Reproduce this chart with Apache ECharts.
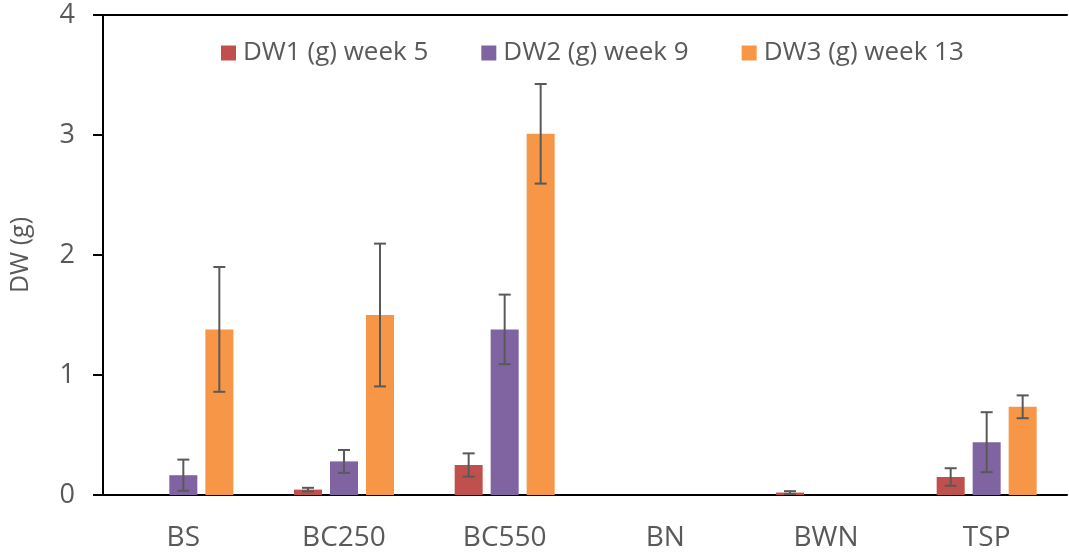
<!DOCTYPE html>
<html>
<head>
<meta charset="utf-8">
<script src="https://cdn.jsdelivr.net/npm/echarts@6/dist/echarts.min.js"></script>
<style>
  html, body { margin: 0; padding: 0; background: #fff; }
  #chart { width: 1069px; height: 555px; }
</style>
</head>
<body>
<div id="chart"></div>
<script>
// Dry weight per treatment at three sampling weeks (mean and error)
const categories = ['BS', 'BC250', 'BC550', 'BN', 'BWN', 'TSP'];
const seriesNames = ['DW1 (g) week 5', 'DW2 (g) week 9', 'DW3 (g) week 13'];
const dw1 = [0, 0.045, 0.25, 0, 0.02, 0.15];
const dw1Err = [0, 0.015, 0.097, 0, 0.012, 0.073];
const dw2 = [0.165, 0.28, 1.38, 0, 0, 0.44];
const dw2Err = [0.13, 0.095, 0.29, 0, 0, 0.25];
const dw3 = [1.38, 1.5, 3.01, 0, 0, 0.735];
const dw3Err = [0.52, 0.595, 0.415, 0, 0, 0.095];
const yTicks = [0, 1, 2, 3, 4];

const colors = ['#C0504D', '#8064A2', '#F79646'];
const font = '"Open Sans", sans-serif';
const textColor = '#595959';
const BAR_W = 28;
const BAR_GAP = 8;

const values = [dw1, dw2, dw3];
const errors = [dw1Err, dw2Err, dw3Err];

function errorSeries(idx) {
  const data = categories.map((c, i) => [i, values[idx][i], errors[idx][i]]);
  return {
    type: 'custom',
    name: seriesNames[idx] + ' error',
    silent: true,
    z: 10,
    data: data,
    renderItem: function (params, api) {
      const err = api.value(2);
      if (!err) return null;
      const x = api.value(0);
      const v = api.value(1);
      const shift = (idx - 1) * (BAR_W + BAR_GAP);
      const hi = api.coord([x, v + err]);
      const lo = api.coord([x, v - err]);
      const cx = hi[0] + shift;
      const cap = 6;
      const style = { stroke: '#595959', lineWidth: 2 };
      return {
        type: 'group',
        children: [
          { type: 'line', shape: { x1: cx, y1: hi[1], x2: cx, y2: lo[1] }, style: style },
          { type: 'line', shape: { x1: cx - cap, y1: hi[1], x2: cx + cap, y2: hi[1] }, style: style },
          { type: 'line', shape: { x1: cx - cap, y1: lo[1], x2: cx + cap, y2: lo[1] }, style: style }
        ]
      };
    }
  };
}

const barSeries = seriesNames.map((name, idx) => ({
  type: 'bar',
  name: name,
  data: values[idx],
  barWidth: BAR_W,
  barGap: (BAR_GAP / BAR_W * 100) + '%',
  itemStyle: { color: colors[idx] },
  xAxisIndex: 0
}));

const chart = echarts.init(document.getElementById('chart'), null, { renderer: 'canvas' });
chart.setOption({
  animation: false,
  color: colors,
  textStyle: { fontFamily: font },
  legend: {
    data: seriesNames,
    top: 35,
    left: 216,
    itemWidth: 15,
    itemHeight: 15,
    itemGap: 53,
    icon: 'rect',
    textStyle: { fontFamily: font, fontSize: 26, color: textColor, padding: [0, 0, 0, 2] }
  },
  grid: { left: 98, right: 2, top: 15, bottom: 60 },
  xAxis: [{
    type: 'category',
    data: categories,
    axisLine: { lineStyle: { color: '#000', width: 2 } },
    axisTick: { show: false },
    axisLabel: { fontFamily: font, fontSize: 28, color: textColor, margin: 29 }
  }, {
    type: 'category',
    data: categories,
    position: 'top',
    axisLine: { lineStyle: { color: '#000', width: 2 } },
    axisTick: { show: false },
    axisLabel: { show: false }
  }],
  yAxis: {
    type: 'value',
    min: yTicks[0],
    max: yTicks[yTicks.length - 1],
    interval: 1,
    name: 'DW (g)',
    nameLocation: 'middle',
    nameGap: 70,
    nameTextStyle: { fontFamily: font, fontSize: 25, color: textColor },
    axisLine: { show: true, lineStyle: { color: '#000', width: 2 } },
    axisTick: { show: true, length: 10, lineStyle: { color: '#000', width: 2 } },
    axisLabel: { fontFamily: font, fontSize: 27, color: textColor, margin: 28 },
    splitLine: { show: false }
  },
  series: barSeries.concat([errorSeries(0), errorSeries(1), errorSeries(2)])
});
</script>
</body>
</html>
